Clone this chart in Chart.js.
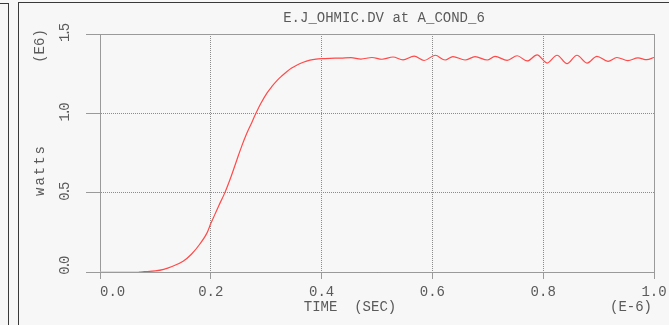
<!DOCTYPE html>
<html>
<head>
<meta charset="utf-8">
<title>E.J_OHMIC.DV at A_COND_6</title>
<script src="https://cdn.jsdelivr.net/npm/chart.js@4"></script>
<style>
  html, body { margin: 0; padding: 0; background: #f7f7f7; }
  body { width: 669px; height: 325px; position: relative; overflow: hidden; }
  .frame { position: absolute; border: 1px solid #3a3a3a; box-sizing: border-box; }
  #prev { left: -20px; top: 3px; width: 29px; height: 400px; }
  #panel { left: 18px; top: 2px; width: 700px; height: 400px; }
  canvas { position: absolute; left: 0; top: 0; }
</style>
</head>
<body>
<div class="frame" id="prev"></div>
<div class="frame" id="panel"></div>
<canvas id="plot" width="669" height="325"></canvas>
<script>
// ohmic power at A_COND_6, time in E-6 s, power in E6 W
const timeUs = [
  0, 0.07, 0.08, 0.10, 0.115, 0.13, 0.15, 0.165, 0.18, 0.193,
  0.20, 0.207, 0.214, 0.226, 0.237, 0.247, 0.256, 0.265, 0.273, 0.28,
  0.29, 0.301, 0.31, 0.319, 0.328, 0.337, 0.346, 0.355, 0.367, 0.379,
  0.39, 0.40, 0.415, 0.435, 0.453, 0.471, 0.491, 0.509, 0.529, 0.547,
  0.567, 0.585, 0.605, 0.623, 0.637, 0.659, 0.677, 0.699, 0.713, 0.735,
  0.753, 0.771, 0.789, 0.807, 0.825, 0.843, 0.861, 0.879, 0.897, 0.917,
  0.933, 0.953, 0.971, 0.987, 1.0
];
const powerMW = [
  0, 0, 0.002, 0.007, 0.017, 0.035, 0.068, 0.112, 0.175, 0.245,
  0.305, 0.360, 0.415, 0.505, 0.605, 0.706, 0.795, 0.874, 0.935, 0.989,
  1.060, 1.126, 1.168, 1.205, 1.235, 1.262, 1.285, 1.303, 1.322, 1.335,
  1.342, 1.345, 1.347, 1.348, 1.351, 1.342, 1.352, 1.341, 1.355, 1.337,
  1.360, 1.333, 1.366, 1.336, 1.358, 1.336, 1.357, 1.336, 1.359, 1.334,
  1.363, 1.330, 1.368, 1.317, 1.366, 1.313, 1.366, 1.317, 1.359, 1.328,
  1.352, 1.332, 1.349, 1.338, 1.352
];
const xTicks = [0, 0.2, 0.4, 0.6, 0.8, 1.0];
const yTicks = [0, 0.5, 1.0, 1.5];

const plotTitle = 'E.J_OHMIC.DV at A_COND_6';
const xTitle = 'TIME  (SEC)';
const xUnit = '(E-6)';
const yTitle = 'watts';
const yUnit = '(E6)';

const mono = '"Liberation Mono", "Courier New", monospace';
const textGrey = '#5a5a5a';
const axisGrey = '#9a9a9a';
const gridGrey = '#8c8c8c';

function upText(ctx, text, x, y, spacing) {
  ctx.save();
  ctx.translate(x, y);
  ctx.rotate(-Math.PI / 2);
  ctx.letterSpacing = spacing + 'px';
  ctx.fillText(text, 0, 0);
  ctx.restore();
}

// the vertical tick labels are printed tighter than the rest
const squeezeY = {
  id: 'squeezeY',
  beforeDraw(chart) {
    const s = chart.scales.y;
    if (s._squeezed) return;
    const orig = s.drawLabels.bind(s);
    s.drawLabels = function (area) {
      this.ctx.save();
      this.ctx.letterSpacing = '-3px';
      orig(area);
      this.ctx.restore();
    };
    s._squeezed = true;
  }
};

const panelText = {
  id: 'panelText',
  afterDraw(chart) {
    const { ctx, chartArea: a } = chart;
    ctx.save();
    ctx.fillStyle = textGrey;
    ctx.font = '14px ' + mono;
    ctx.textAlign = 'center';
    ctx.textBaseline = 'middle';
    ctx.fillText(plotTitle, a.left + 284, a.top - 16);
    ctx.fillText(xTitle, a.left + 250, a.bottom + 35);
    ctx.fillText(xUnit, a.right - 23, a.bottom + 35);
    upText(ctx, yUnit, a.left - 60, a.top + 12, 0);
    upText(ctx, yTitle, a.left - 60, a.top + 136, 2);
    ctx.restore();
  }
};

const fixTicks = list => scale => { scale.ticks = list.map(v => ({ value: v })); };

new Chart(document.getElementById('plot'), {
  type: 'line',
  data: {
    datasets: [{
      data: timeUs.map((t, i) => ({ x: t, y: powerMW[i] })),
      borderColor: '#ff4a4a',
      borderWidth: 1.2,
      pointRadius: 0,
      cubicInterpolationMode: 'monotone',
      segment: {
        borderColor: c => (c.p1.parsed.x <= 0.07 ? '#f7a8a8' : undefined)
      }
    }]
  },
  options: {
    responsive: false,
    animation: false,
    devicePixelRatio: 1,
    layout: { padding: { top: 34, right: 15, left: 0, bottom: 0 } },
    plugins: { legend: { display: false }, title: { display: false }, tooltip: { enabled: false } },
    scales: {
      x: {
        type: 'linear', position: 'bottom', min: 0, max: 1,
        afterBuildTicks: fixTicks(xTicks),
        afterFit: s => { s.height = 53; s.paddingLeft = 0; s.paddingRight = 15; },
        ticks: {
          font: { family: mono, size: 14 }, color: textGrey, padding: 5, maxRotation: 0,
          callback: v => (v === 0 ? '   0.0' : v.toFixed(1))
        },
        grid: { color: gridGrey, lineWidth: 1, tickLength: 7, tickColor: axisGrey, tickBorderDash: [] },
        border: { color: axisGrey, width: 1, dash: [1, 1] }
      },
      y: {
        type: 'linear', position: 'left', min: 0, max: 1.5,
        afterBuildTicks: fixTicks(yTicks),
        afterFit: s => { s.width = 100; },
        ticks: {
          font: { family: mono, size: 14 }, color: textGrey, padding: 0,
          minRotation: 90, maxRotation: 90, crossAlign: 'center',
          callback: v => (v === 0 ? '  0.0' : v.toFixed(1))
        },
        grid: { color: gridGrey, lineWidth: 1, tickLength: 14, tickColor: axisGrey, tickBorderDash: [] },
        border: { color: axisGrey, width: 1, dash: [1, 1] }
      },
      xTop: {
        type: 'linear', position: 'top', min: 0, max: 1,
        afterFit: s => { s.height = 0; },
        ticks: { display: false },
        grid: { display: false },
        border: { color: axisGrey, width: 1 }
      },
      yRight: {
        type: 'linear', position: 'right', min: 0, max: 1.5,
        afterFit: s => { s.width = 0; },
        ticks: { display: false },
        grid: { display: false },
        border: { color: axisGrey, width: 1 }
      }
    }
  },
  plugins: [squeezeY, panelText]
});
</script>
</body>
</html>
